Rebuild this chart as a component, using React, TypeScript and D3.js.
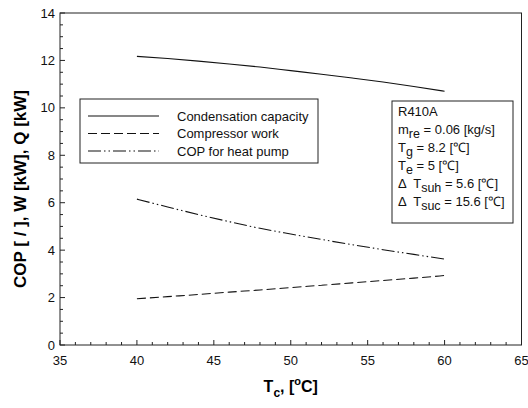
import React, { useEffect, useRef } from 'react'
import * as d3 from 'd3'

// condensing temperature [°C]
const tc = [40, 42, 44, 46, 48, 50, 52, 54, 56, 58, 60]
// condensation capacity Q [kW]
const condensation = [12.17, 12.08, 11.97, 11.85, 11.72, 11.57, 11.42, 11.26, 11.09, 10.9, 10.7]
// compressor work W [kW]
const compressorWork = [1.95, 2.04, 2.13, 2.23, 2.32, 2.42, 2.52, 2.62, 2.72, 2.82, 2.93]
// COP for heat pump
const copHeatPump = [6.15, 5.82, 5.5, 5.2, 4.92, 4.68, 4.45, 4.23, 4.02, 3.82, 3.62]

const xTicks = [35, 40, 45, 50, 55, 60, 65]
const yTicks = [0, 2, 4, 6, 8, 10, 12, 14]

const legendLabels = ['Condensation capacity', 'Compressor work', 'COP for heat pump']

const FONT = 'Arial, "Liberation Sans", Helvetica, sans-serif'

export default function App() {
  const ref = useRef<SVGSVGElement>(null)

  useEffect(() => {
    const width = 528, height = 408
    const left = 60, right = 521.5, top = 13, bottom = 345
    const svg = d3.select(ref.current)
    svg.selectAll('*').remove()
    svg.attr('width', width).attr('height', height)

    const x = d3.scaleLinear().domain([35, 65]).range([left, right])
    const y = d3.scaleLinear().domain([0, 14]).range([bottom, top])

    const ink = '#222'

    // frame
    svg.append('rect')
      .attr('x', left).attr('y', top)
      .attr('width', right - left).attr('height', bottom - top)
      .attr('fill', 'none').attr('stroke', ink).attr('stroke-width', 1)

    // x ticks (inward)
    const xMinor = d3.range(35, 65.01, 1)
    svg.append('g').selectAll('line').data(xMinor).enter().append('line')
      .attr('x1', d => x(d)).attr('x2', d => x(d))
      .attr('y1', bottom).attr('y2', d => bottom - (d % 5 === 0 ? 5 : 3))
      .attr('stroke', ink)
    svg.append('g').selectAll('text').data(xTicks).enter().append('text')
      .attr('x', d => x(d)).attr('y', bottom + 20)
      .attr('text-anchor', 'middle')
      .attr('font-family', FONT).attr('font-size', 13).attr('fill', '#111')
      .text(d => d)

    // y ticks (inward)
    const yMinor = d3.range(0, 14.01, 0.5)
    svg.append('g').selectAll('line').data(yMinor).enter().append('line')
      .attr('x1', left).attr('x2', d => left + (d % 2 === 0 ? 5 : 3))
      .attr('y1', d => y(d)).attr('y2', d => y(d))
      .attr('stroke', ink)
    svg.append('g').selectAll('text').data(yTicks).enter().append('text')
      .attr('x', left - 5).attr('y', d => y(d)).attr('dy', '0.35em')
      .attr('text-anchor', 'end')
      .attr('font-family', FONT).attr('font-size', 13).attr('fill', '#111')
      .text(d => d)

    // axis titles
    svg.append('text')
      .attr('transform', `translate(26,${(top + bottom) / 2 + 10}) rotate(-90)`)
      .attr('text-anchor', 'middle')
      .attr('font-family', FONT).attr('font-size', 17).attr('font-weight', 'bold')
      .text('COP [ / ], W [kW], Q [kW]')

    const xt = svg.append('text')
      .attr('x', (left + right) / 2).attr('y', 392)
      .attr('text-anchor', 'middle')
      .attr('font-family', FONT).attr('font-size', 16).attr('font-weight', 'bold')
    xt.append('tspan').text('T')
    xt.append('tspan').attr('dy', 5).attr('font-size', 12).text('c')
    xt.append('tspan').attr('dy', -5).text(', [')
    xt.append('tspan').attr('dy', -7).attr('font-size', 11).text('o')
    xt.append('tspan').attr('dy', 7).text('C]')

    // series
    const styles = ['none', '9,4', '13,3,1.5,3,1.5,3']
    const series = [condensation, compressorWork, copHeatPump]
    const line = d3.line<number>()
      .x((_, i) => x(tc[i]))
      .y(d => y(d))
      .curve(d3.curveMonotoneX)
    svg.append('g').selectAll('path').data(series).enter().append('path')
      .attr('d', d => line(d))
      .attr('fill', 'none').attr('stroke', '#111').attr('stroke-width', 1.1)
      .attr('stroke-dasharray', (_, i) => styles[i])

    // legend
    const lg = svg.append('g')
    lg.append('rect')
      .attr('x', 80).attr('y', 99).attr('width', 238).attr('height', 64)
      .attr('fill', '#fff').attr('stroke', ink)
    legendLabels.forEach((label, i) => {
      const ly = 116 + i * 17.5
      lg.append('line')
        .attr('x1', 88).attr('x2', 159).attr('y1', ly).attr('y2', ly)
        .attr('stroke', '#111').attr('stroke-width', 1.1)
        .attr('stroke-dasharray', styles[i])
      lg.append('text')
        .attr('x', 177).attr('y', ly).attr('dy', '0.35em')
        .attr('font-family', FONT).attr('font-size', 13).attr('fill', '#111')
        .text(label)
    })

    // conditions box
    const cb = svg.append('g')
    cb.append('rect')
      .attr('x', 392).attr('y', 101).attr('width', 121).attr('height', 122)
      .attr('fill', '#fff').attr('stroke', ink)
    const rows: [string, string, string][] = [
      ['R410A', '', ''],
      ['m', 're', ' = 0.06 [kg/s]'],
      ['T', 'g', ' = 8.2 [℃]'],
      ['T', 'e', ' = 5 [℃]'],
      ['Δ  T', 'suh', ' = 5.6 [℃]'],
      ['Δ  T', 'suc', ' = 15.6 [℃]'],
    ]
    rows.forEach((r, i) => {
      const t = cb.append('text')
        .attr('x', 398).attr('y', 116 + i * 18)
        .attr('font-family', FONT).attr('font-size', 13).attr('fill', '#111')
        .attr('xml:space', 'preserve')
      t.append('tspan').text(r[0])
      if (r[1]) {
        t.append('tspan').attr('dy', 3.5).attr('font-size', 12.5).text(r[1])
        t.append('tspan').attr('dy', -3.5).text(r[2])
      }
    })
  }, [])

  return (
    <svg ref={ref} style={{ position: 'absolute', left: 0, top: 0, background: '#fff' }} />
  )
}
